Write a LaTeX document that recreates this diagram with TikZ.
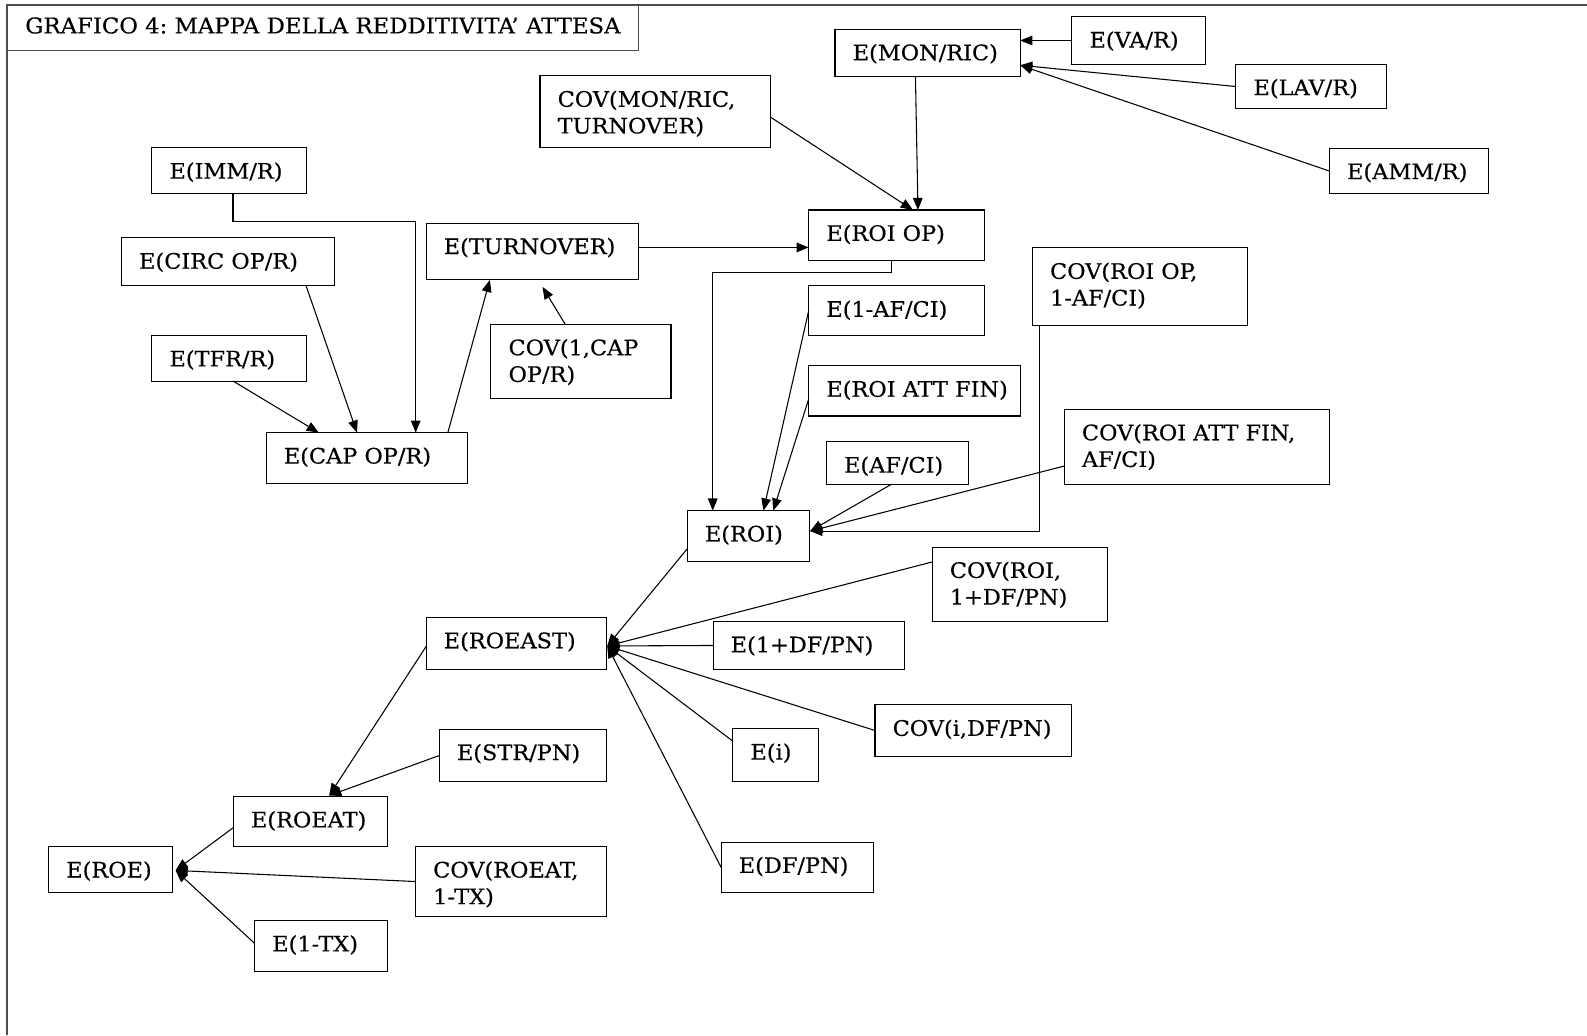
\documentclass[tikz,border=0pt]{standalone}
\usepackage{fontspec}
\setmainfont[FakeStretch=1.05,FakeBold=0.4]{DejaVu Serif}
\usetikzlibrary{arrows.meta,calc}
\hyphenpenalty=10000
\exhyphenpenalty=10000
\hbadness=10000
\hfuzz=20pt
\frenchspacing
\begin{document}
\begin{tikzpicture}[x=0.02cm,y=-0.02cm,
  bx/.style={draw=black, line width=0.6pt, inner xsep=0.35cm, inner ysep=0pt, outer sep=0pt,
    anchor=north west, align=left, text height=0.61cm, font=\fontsize{12}{15}\selectfont\frenchspacing},
  arr/.style={line width=0.6pt, -{Triangle[length=0.24cm,width=0.19cm]}}]
\useasboundingbox (0,0) rectangle (1568,1023);
\fill[white] (0,0) rectangle (1568,1023);
\draw[line width=0.9pt, black!70] (7,1023) -- (7,5) -- (1568,5);
\node[bx, draw=black!70, line width=0.9pt, inner xsep=0.36cm, text height=0.56cm, text width=11.76cm, text depth=0.34cm, font=\fontsize{12.2}{15}\selectfont\frenchspacing] (title) at (7,5) {GRAFICO~4:~MAPPA~DELLA~REDDITIVITA’~ATTESA};
\node[bx, text width=2.96cm, text depth=0.32cm] (monric) at (825,29) {E(MON/RIC)};
\node[bx, text width=1.94cm, text depth=0.33cm] (var) at (1059,16.5) {E(VA/R)};
\node[bx, text width=2.28cm, text depth=0.27cm] (lavr) at (1221,63.5) {E(LAV/R)};
\node[bx, text width=2.45cm, text depth=0.29cm] (ammr) at (1313.5,146.5) {E(AMM/R)};
\node[bx, text width=3.85cm, text depth=0.81cm] (covmon) at (533.5,75) {COV(MON/RIC,\\TURNOVER)};
\node[bx, text width=2.35cm, text depth=0.30cm] (immr) at (150,146) {E(IMM/R)};
\node[bx, text width=3.50cm, text depth=0.51cm] (turnover) at (421,220.5) {E(TURNOVER)};
\node[bx, text width=2.78cm, text depth=0.38cm] (roiop) at (799,207.5) {E(ROI~OP)};
\node[bx, text width=3.51cm, text depth=0.34cm] (circ) at (120,235) {E(CIRC~OP/R)};
\node[bx, text width=3.56cm, text depth=0.92cm] (covroiop) at (1020,245) {COV(ROI~OP,\\1-AF/CI)};
\node[bx, text width=2.78cm, text depth=0.37cm] (afcione) at (799,282.5) {E(1-AF/CI)};
\node[bx, text width=2.86cm, text depth=0.86cm] (covcap) at (485,320.5) {COV(1,CAP\\OP/R)};
\node[bx, text width=2.35cm, text depth=0.29cm] (tfr) at (150,331.5) {E(TFR/R)};
\node[bx, text width=3.48cm, text depth=0.38cm] (roiatt) at (799,361.5) {E(ROI~ATT~FIN)};
\node[bx, text width=3.27cm, text depth=0.39cm] (capop) at (263,427.5) {E(CAP~OP/R)};
\node[bx, text width=2.11cm, text depth=0.23cm] (afci) at (816.5,436.5) {E(AF/CI)};
\node[bx, text width=4.55cm, text depth=0.87cm] (covroiatt) at (1051.5,404.5) {COV(ROI~ATT~FIN,\\AF/CI)};
\node[bx, text width=1.71cm, text depth=0.40cm] (roi) at (679,504.5) {E(ROI)};
\node[bx, text width=2.77cm, text depth=0.86cm] (covroi) at (921,540.5) {COV(ROI,\\1+DF/PN)};
\node[bx, text width=2.86cm, text depth=0.42cm] (roeast) at (421,610) {E(ROEAST)};
\node[bx, text width=3.09cm, text depth=0.34cm] (dfone) at (704.5,614) {E(1+DF/PN)};
\node[bx, text width=3.19cm, text depth=0.40cm] (covi) at (864.5,696.5) {COV(i,DF/PN)};
\node[bx, text width=2.60cm, text depth=0.43cm] (str) at (434,720.5) {E(STR/PN)};
\node[bx, text width=1.00cm, text depth=0.44cm] (ei) at (724,720) {E(i)};
\node[bx, text width=2.35cm, text depth=0.38cm] (roeat) at (230.5,787) {E(ROEAT)};
\node[bx, text width=2.32cm, text depth=0.39cm] (dfpn) at (712.5,832) {E(DF/PN)};
\node[bx, text width=1.75cm, text depth=0.30cm] (roe) at (48,836.5) {E(ROE)};
\node[bx, text width=3.07cm, text depth=0.77cm] (covroeat) at (410.5,836.5) {COV(ROEAT,\\1-TX)};
\node[bx, text width=1.93cm, text depth=0.40cm] (txone) at (251.5,909.5) {E(1-TX)};
\coordinate (monin) at ($(monric.south east)+(0,-11)$);
\coordinate (roiopin) at ($(roiop.north)+(21,0)$);
\coordinate (roiin) at ($(roi.east)+(1,-5)$);
\coordinate (eastin) at ($(roeast.east)+(1,2.5)$);
\coordinate (roeatin) at ($(roeat.north)+(18.5,-1)$);
\coordinate (roein) at ($(roe.east)+(3,0.75)$);
\draw[arr] (var.west) -- (var.west -| monric.east);
\draw[arr] (lavr.west) -- (monin);
\draw[arr] (ammr.west) -- (monin);
\draw[arr] ($(monric.south)+(-12,0)$) -- (roiopin);
\draw[arr] ($(covmon.east)+(0,5)$) -- ($(roiop.north)+(16,0)$);
\draw[arr] ($(immr.south)+(4,0)$) -- ++(0,27.5) -| ($(capop.north)+(48.5,0)$);
\draw[arr] ($(circ.south east)+(-28,0)$) -- ($(capop.north)+(-9.5,0)$);
\draw[arr] ($(tfr.south)+(4,0)$) -- ($(capop.north west)+(52,0)$);
\draw[arr] ($(capop.north east)+(-19,0)$) -- ($(turnover.south west)+(63,0)$);
\draw[arr] ($(covcap.north west)+(73.5,0)$) -- ($(turnover.south west)+(115,7)$);
\draw[arr] ($(turnover.east)+(0,-4)$) coordinate (tq) -- (tq -| roiop.west);
\draw[arr] ($(roiop.south)+(-5,0)$) -- ++(0,12.4) -| ($(roi.north west)+(25.2,0)$);
\draw[arr] (afcione.west) -- ($(roi.north west)+(75.3,0)$);
\draw[arr] ($(roiatt.west)+(0,8)$) -- ($(roi.north west)+(85,0)$);
\draw[arr] ($(afci.south)+(-6,0)$) -- (roiin);
\draw[arr] ($(covroiatt.south west)+(0,-18)$) -- (roiin);
\draw[arr] ($(covroiop.south west)+(7,0)$) |- (roiin);
\draw[arr] ($(roi.west)+(0,12.5)$) -- (eastin);
\draw[arr] ($(covroi.west)+(0,-22)$) -- (eastin);
\draw[arr] (dfone.west) -- (eastin);
\draw[arr] (covi.west) -- (eastin);
\draw[arr] ($(ei.west)+(0,-14)$) -- (eastin);
\draw[arr] (dfpn.west) -- (eastin);
\draw[arr] ($(roeast.west)+(0,3)$) -- (roeatin);
\draw[arr] (str.west) -- (roeatin);
\draw[arr] ($(roeat.west)+(0,6)$) -- (roein);
\draw[arr] (covroeat.west) -- (roein);
\draw[arr] ($(txone.west)+(0,-2.75)$) -- (roein);
\end{tikzpicture}
\end{document}
